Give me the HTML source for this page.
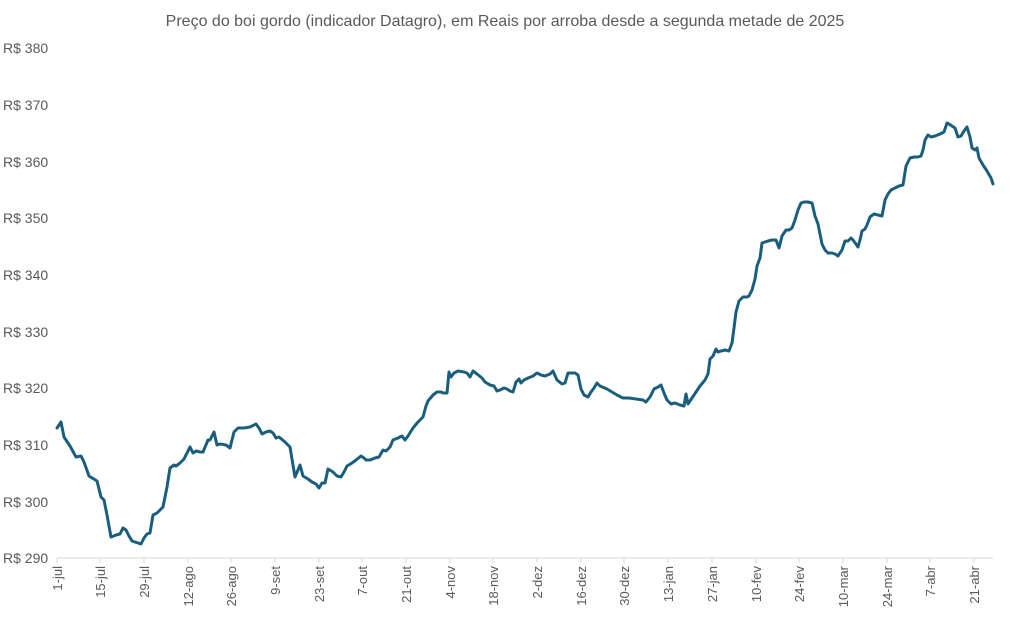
<!DOCTYPE html>
<html><head><meta charset="utf-8"><style>
body{margin:0;background:#fff;}
svg text{font-family:"Liberation Sans",sans-serif;fill:#595959;}
</style></head><body>
<svg width="1033" height="629" viewBox="0 0 1033 629" xmlns="http://www.w3.org/2000/svg">
<rect width="1033" height="629" fill="#fff"/>
<text x="505" y="26" font-size="16" text-anchor="middle">Preço do boi gordo (indicador Datagro), em Reais por arroba desde a segunda metade de 2025</text>
<g font-size="14" text-anchor="start">
<text x="3" y="53">R$ 380</text>
<text x="3" y="110">R$ 370</text>
<text x="3" y="167">R$ 360</text>
<text x="3" y="223">R$ 350</text>
<text x="3" y="280">R$ 340</text>
<text x="3" y="337">R$ 330</text>
<text x="3" y="393">R$ 320</text>
<text x="3" y="450">R$ 310</text>
<text x="3" y="507">R$ 300</text>
<text x="3" y="563">R$ 290</text>
</g>
<line x1="57" y1="558" x2="993" y2="558" stroke="#d9d9d9" stroke-width="1"/>
<g stroke="#d9d9d9" stroke-width="1">
<line x1="57" y1="558" x2="57" y2="563"/><line x1="100" y1="558" x2="100" y2="563"/><line x1="144" y1="558" x2="144" y2="563"/><line x1="188" y1="558" x2="188" y2="563"/><line x1="231" y1="558" x2="231" y2="563"/><line x1="275" y1="558" x2="275" y2="563"/><line x1="319" y1="558" x2="319" y2="563"/><line x1="362" y1="558" x2="362" y2="563"/><line x1="406" y1="558" x2="406" y2="563"/><line x1="450" y1="558" x2="450" y2="563"/><line x1="493" y1="558" x2="493" y2="563"/><line x1="537" y1="558" x2="537" y2="563"/><line x1="581" y1="558" x2="581" y2="563"/><line x1="624" y1="558" x2="624" y2="563"/><line x1="668" y1="558" x2="668" y2="563"/><line x1="712" y1="558" x2="712" y2="563"/><line x1="756" y1="558" x2="756" y2="563"/><line x1="799" y1="558" x2="799" y2="563"/><line x1="843" y1="558" x2="843" y2="563"/><line x1="887" y1="558" x2="887" y2="563"/><line x1="930" y1="558" x2="930" y2="563"/><line x1="974" y1="558" x2="974" y2="563"/>
</g>
<g font-size="13" text-anchor="end">
<text transform="translate(62,566) rotate(-90)">1-jul</text>
<text transform="translate(105,566) rotate(-90)">15-jul</text>
<text transform="translate(149,566) rotate(-90)">29-jul</text>
<text transform="translate(193,566) rotate(-90)">12-ago</text>
<text transform="translate(236,566) rotate(-90)">26-ago</text>
<text transform="translate(280,566) rotate(-90)">9-set</text>
<text transform="translate(324,566) rotate(-90)">23-set</text>
<text transform="translate(367,566) rotate(-90)">7-out</text>
<text transform="translate(411,566) rotate(-90)">21-out</text>
<text transform="translate(455,566) rotate(-90)">4-nov</text>
<text transform="translate(498,566) rotate(-90)">18-nov</text>
<text transform="translate(542,566) rotate(-90)">2-dez</text>
<text transform="translate(586,566) rotate(-90)">16-dez</text>
<text transform="translate(629,566) rotate(-90)">30-dez</text>
<text transform="translate(673,566) rotate(-90)">13-jan</text>
<text transform="translate(717,566) rotate(-90)">27-jan</text>
<text transform="translate(761,566) rotate(-90)">10-fev</text>
<text transform="translate(804,566) rotate(-90)">24-fev</text>
<text transform="translate(848,566) rotate(-90)">10-mar</text>
<text transform="translate(892,566) rotate(-90)">24-mar</text>
<text transform="translate(935,566) rotate(-90)">7-abr</text>
<text transform="translate(979,566) rotate(-90)">21-abr</text>
</g>
<polyline fill="none" stroke="#1a5e7e" stroke-width="3" stroke-linejoin="round" stroke-linecap="round" points="57,428 61,422 64,437 70,446 76,457 81,456 84,462 89,476 97,481 101,497 104,500 107,515 111,537 116,535 120,534 123,528 126,530 129,536 132,541 138,543 141,544 144,538 147,534 150,533 153,515 157,513 163,507 167,487 170,468 174,465 176,466 180,463 184,459 187,453 190,447 193,453 196,451 200,452 203,452 208,440 210,440 214,432 217,445 220,444 226,445 230,448 234,432 238,428 244,428 250,427 256,424 259,428 262,434 266,432 270,431 273,433 276,438 279,437 285,442 290,447 295,477 298,470 300,465 303,476 308,479 312,482 316,484 319,488 322,483 325,483 328,469 333,472 337,476 341,477 344,472 347,466 352,463 356,460 361,456 364,458 366,460 370,460 375,458 379,457 383,450 386,451 390,447 393,440 398,438 402,436 405,440 408,436 413,428 418,422 423,417 426,406 428,401 433,395 437,392 441,392 443,393 447,393 449,372 451,377 454,373 458,371 464,372 467,373 470,377 473,371 477,374 482,378 485,382 490,385 494,386 497,391 500,390 504,388 507,389 510,391 513,392 516,382 519,379 521,383 524,380 528,378 533,376 537,373 541,375 545,376 550,374 553,371 557,380 562,384 565,383 568,373 572,373 575,373 578,375 581,389 584,395 588,397 591,392 594,388 597,383 600,386 607,389 612,392 617,395 623,398 629,398 636,399 643,400 646,402 650,397 654,389 658,387 661,385 664,393 667,400 671,404 675,403 680,405 684,406 686,394 688,404 692,398 696,392 700,386 705,380 708,374 710,359 713,356 716,349 718,352 721,351 725,350 729,351 732,343 734,328 736,312 739,301 743,297 747,297 749,296 752,290 755,279 757,266 760,258 762,243 765,242 768,241 772,240 776,240 779,248 782,236 786,230 789,230 792,228 795,220 798,210 801,203 804,202 808,202 812,203 815,216 818,224 820,234 822,244 825,250 828,253 832,253 835,254 838,256 842,250 845,241 848,241 851,238 853,240 856,244 858,247 860,240 862,231 865,229 867,225 870,217 874,214 878,215 882,216 885,200 888,194 891,190 895,188 899,186 903,185 906,166 910,158 914,157 918,157 921,156 923,150 925,140 928,135 931,137 935,136 940,134 944,132 947,123 949,124 952,126 955,128 958,137 961,136 964,131 967,127 970,137 972,148 975,150 977,148 979,158 983,165 987,171 991,178 993,184"/>
</svg>
</body></html>
